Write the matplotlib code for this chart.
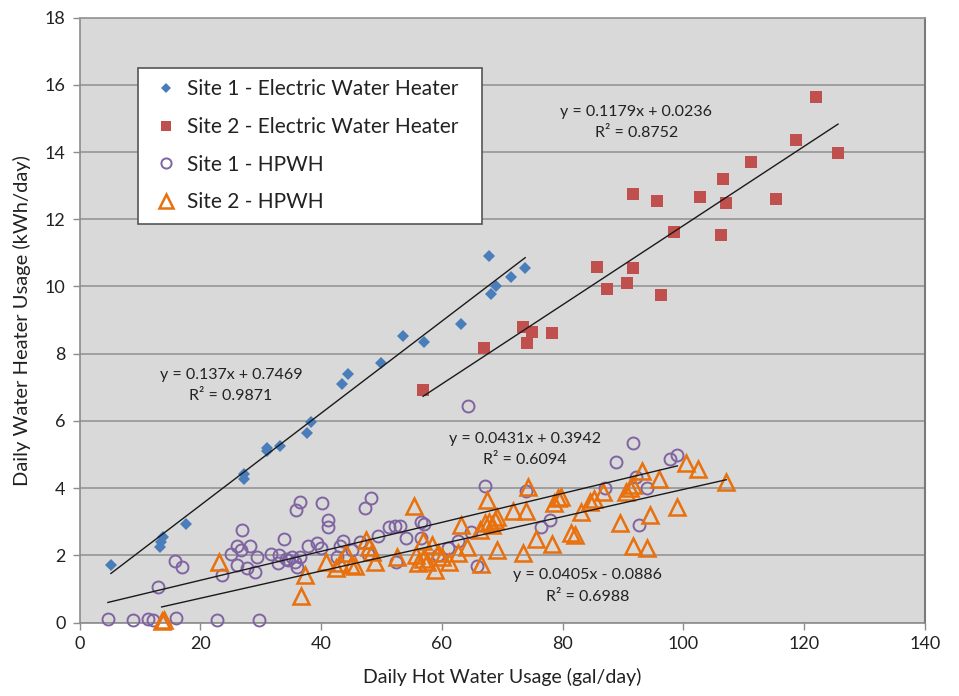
import matplotlib
matplotlib.use("Agg")
import matplotlib.pyplot as plt
import numpy as np

plt.rcParams['font.family'] = ['Lato', 'DejaVu Sans']

# ---------------- data ----------------
s1_elec_x = [5.2, 13.3, 13.5, 13.9, 17.7, 27.2, 27.3, 31.0, 31.1, 33.2, 37.6, 38.4,
             43.4, 44.5, 49.9, 53.6, 57.1, 63.2, 67.8, 68.1, 68.9, 71.4, 73.8]
s1_elec_y = [1.71, 2.25, 2.4, 2.53, 2.92, 4.27, 4.41, 5.11, 5.18, 5.26, 5.65, 5.96,
             7.1, 7.4, 7.71, 8.54, 8.36, 8.88, 10.92, 9.77, 10.02, 10.29, 10.54]

s2_elec_x = [56.9, 67.0, 73.5, 75.0, 74.1, 78.3, 85.7, 87.4, 90.6, 91.6, 96.3, 91.7,
             95.6, 98.4, 102.8, 106.2, 106.5, 107.0, 111.2, 115.3, 118.7, 121.9, 125.6]
s2_elec_y = [6.92, 8.18, 8.80, 8.65, 8.31, 8.61, 10.57, 9.93, 10.10, 10.54, 9.74, 12.74,
             12.54, 11.62, 12.66, 11.53, 13.2, 12.48, 13.71, 12.6, 14.36, 15.63, 13.96]

s1_hpwh_x = [4.7, 8.9, 11.3, 12.1, 15.9, 22.8, 29.7,
             13.0, 15.8, 17.0, 23.6, 25.1, 26.0, 26.8, 26.9, 28.2, 26.0, 27.8, 29.0, 29.4,
             31.7, 32.8, 33.1, 33.9, 34.2, 34.6, 35.7, 36.0, 35.2, 36.5, 35.8, 36.5,
             37.9, 39.4, 40.0, 40.2, 41.1, 41.1, 42.7, 43.2, 43.7, 45.1, 46.4, 47.3, 48.3, 47.7,
             49.5, 51.2, 52.2, 53.1, 52.4, 54.1, 56.6, 57.1, 56.5, 59.3, 61.1, 62.7, 64.3, 64.8,
             65.8, 67.2, 74.0, 76.4, 77.9, 87.0, 88.8, 91.7, 92.2, 92.7, 94.0, 97.8, 99.0]
s1_hpwh_y = [0.09, 0.07, 0.09, 0.07, 0.12, 0.07, 0.07,
             1.05, 1.83, 1.66, 1.41, 2.04, 2.29, 2.16, 2.75, 2.29, 1.71, 1.63, 1.51, 1.94,
             2.04, 1.76, 2.01, 2.48, 1.88, 1.86, 1.81, 1.66, 1.95, 1.94, 3.35, 3.58,
             2.28, 2.36, 2.21, 3.55, 3.05, 2.83, 1.96, 2.28, 2.43, 2.16, 2.39, 3.4, 3.71, 2.03,
             2.57, 2.85, 2.87, 2.87, 1.81, 2.5, 3.0, 2.93, 2.5, 2.0, 2.21, 2.44, 6.45, 2.7,
             1.69, 4.06, 3.92, 2.85, 3.06, 4.01, 4.77, 5.33, 4.34, 2.9, 3.99, 4.86, 4.98]

s2_hpwh_x = [13.6, 14.0, 23.1, 36.7, 37.3, 40.9, 42.5, 43.1, 44.2, 44.9, 45.7, 47.5, 47.9,
             48.4, 48.9, 52.6, 55.4, 55.8, 56.1, 56.8, 56.9, 57.5, 58.4, 58.8, 59.4, 60.0,
             61.2, 62.7, 63.1, 64.1, 66.5, 67.4, 66.4, 67.1, 67.8, 68.3, 68.8, 69.1, 69.1,
             71.8, 73.5, 74.0, 74.3, 75.6, 78.2, 78.5, 79.2, 79.7, 81.4, 82.1, 83.1, 84.5,
             85.2, 86.7, 89.5, 90.5, 91.1, 91.7, 91.7, 93.1, 93.9, 94.5, 96.0, 98.9, 100.5,
             102.4, 107.1]
s2_hpwh_y = [0.05, 0.07, 1.8, 0.8, 1.42, 1.81, 1.61, 1.76, 2.07, 1.71, 1.68, 2.45, 2.26,
             2.11, 1.8, 1.96, 3.47, 2.01, 1.76, 2.43, 1.9, 1.81, 2.31, 1.56, 2.08, 1.96,
             1.79, 2.06, 2.9, 2.24, 1.73, 3.66, 2.76, 2.95, 3.0, 2.9, 3.05, 3.15, 2.16,
             3.32, 2.06, 3.32, 4.03, 2.49, 2.35, 3.55, 3.7, 3.74, 2.65, 2.6, 3.3, 3.6,
             3.68, 3.87, 2.97, 3.87, 3.99, 4.1, 2.27, 4.52, 2.21, 3.2, 4.27, 3.45, 4.76,
             4.56, 4.19]

labels = ['Site 1 - Electric Water Heater', 'Site 2 - Electric Water Heater',
          'Site 1 - HPWH', 'Site 2 - HPWH']

# trendline coefficients (slope, intercept) as printed on chart
fits = [(0.137, 0.7469), (0.1179, 0.0236), (0.0431, 0.3942), (0.0405, -0.0886)]
fit_texts = [('y = 0.137x + 0.7469', 'R² = 0.9871'),
             ('y = 0.1179x + 0.0236', 'R² = 0.8752'),
             ('y = 0.0431x + 0.3942', 'R² = 0.6094'),
             ('y = 0.0405x - 0.0886', 'R² = 0.6988')]

x_ticks = [0, 20, 40, 60, 80, 100, 120, 140]
y_ticks = [0, 2, 4, 6, 8, 10, 12, 14, 16, 18]

# ---------------- figure ----------------
fig = plt.figure(figsize=(9.59, 6.96), dpi=100)
ax = fig.add_axes([0.0829, 0.1056, 0.8816, 0.869])
ax.set_facecolor('#d9d9d9')
ax.set_xlim(0, 140)
ax.set_ylim(0, 18)
ax.set_xticks(x_ticks)
ax.set_yticks(y_ticks)
ax.yaxis.grid(True, color='#9a9a9a', linewidth=1.3)
ax.set_axisbelow(True)
for side in ['left', 'bottom']:
    ax.spines[side].set_color('#8c8c8c')
    ax.spines[side].set_linewidth(1.2)
ax.spines['top'].set_color('#9a9a9a')
ax.spines['top'].set_linewidth(1.3)
ax.spines['right'].set_color('#7a7a7a')
ax.spines['right'].set_linewidth(1.5)
ax.tick_params(axis='both', direction='out', length=5, width=1.0, color='#8c8c8c',
               labelsize=13, labelcolor='#222222', pad=5)

series = [
    (s1_elec_x, s1_elec_y, dict(marker='D', color='#4a7ebb', markersize=6.5, markeredgewidth=0)),
    (s2_elec_x, s2_elec_y, dict(marker='s', color='#c0504d', markersize=8.5, markeredgewidth=0)),
    (s1_hpwh_x, s1_hpwh_y, dict(marker='o', markerfacecolor='none', markeredgecolor='#8064a2',
                                markersize=8.6, markeredgewidth=1.4)),
    (s2_hpwh_x, s2_hpwh_y, dict(marker='^', markerfacecolor='none', markeredgecolor='#e8710e',
                                markersize=11.5, markeredgewidth=1.8)),
]

handles = []
for (xs, ys, st), lab in zip(series, labels):
    h, = ax.plot(xs, ys, linestyle='none', label=lab, clip_on=False, zorder=3, **st)
    handles.append(h)

for (xs, ys, st), (m, b) in zip(series, fits):
    xr = np.array([min(xs), max(xs)])
    ax.plot(xr, m * xr + b, color='#1a1a1a', linewidth=1.0, zorder=4)

text_pos = [(25.1, 7.37), (92.2, 15.2), (73.8, 5.47), (84.2, 1.41)]
for (t1, t2), (tx, ty) in zip(fit_texts, text_pos):
    ax.text(tx, ty, t1, ha='center', va='center', fontsize=11.5, color='#222222', zorder=5)
    ax.text(tx, ty - 0.64, t2, ha='center', va='center', fontsize=11.5, color='#222222', zorder=5)

ax.set_xlabel('Daily Hot Water Usage (gal/day)', fontsize=14, color='#222222', labelpad=11)
ax.set_ylabel('Daily Water Heater Usage (kWh/day)', fontsize=14.5, color='#222222', labelpad=10)

leg = ax.legend(handles=handles, loc='upper left', bbox_to_anchor=(0.069, 0.652, 0.407, 0.265),
                mode='expand', fontsize=15,
                frameon=True, fancybox=False, framealpha=1, edgecolor='#555555',
                labelspacing=0.85, handlelength=1.6, handletextpad=0.2,
                borderpad=0.55, borderaxespad=0, markerscale=0.85)
leg.get_frame().set_linewidth(1.2)
for t in leg.get_texts():
    t.set_color('#222222')
leg.set_zorder(6)

fig.savefig('out.png', dpi=100, facecolor='white')
